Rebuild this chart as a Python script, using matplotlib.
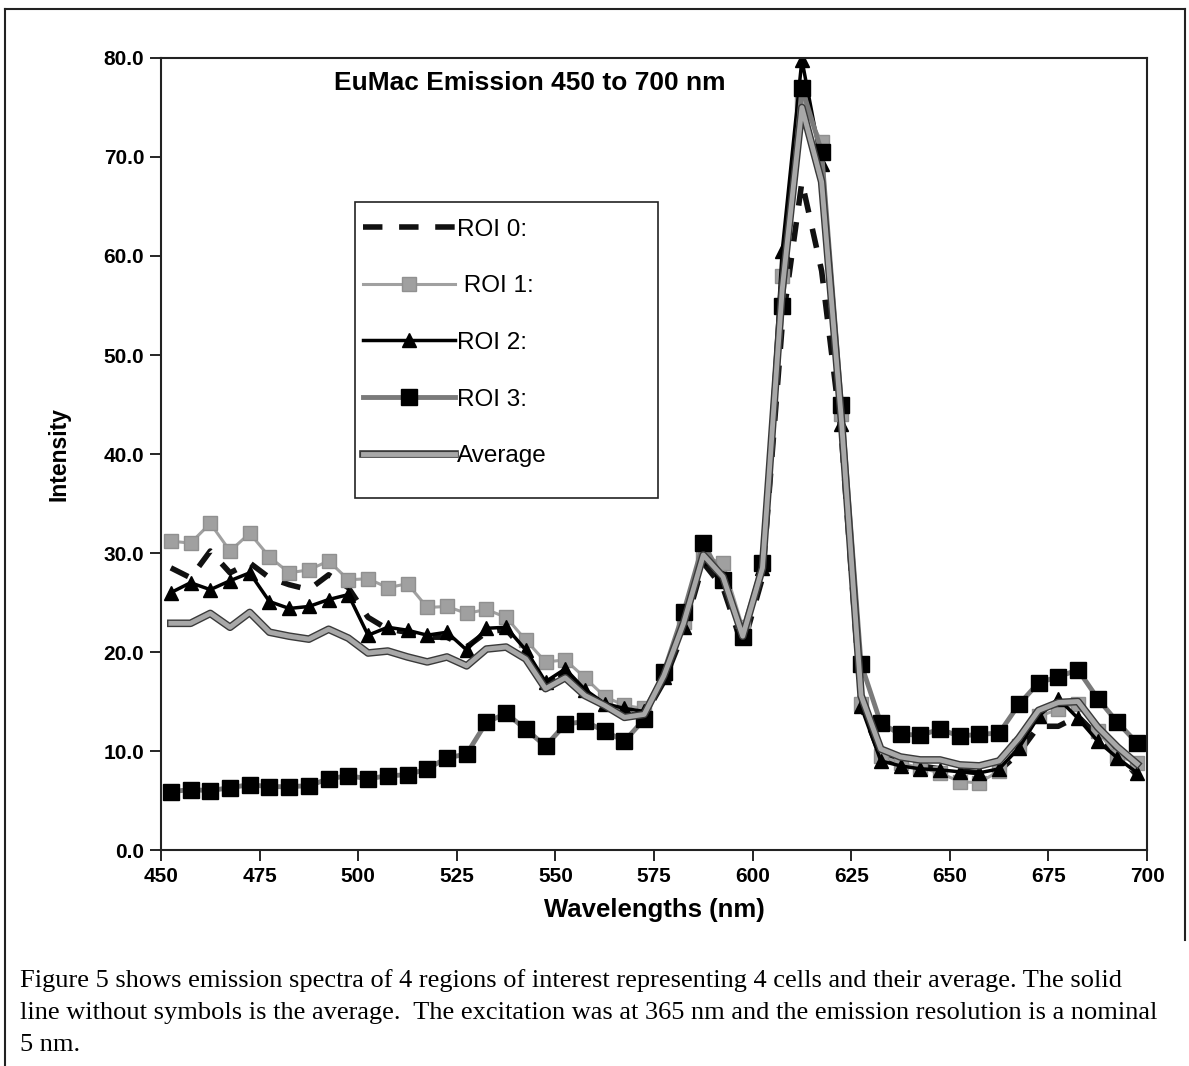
import matplotlib
matplotlib.use('Agg')
import matplotlib.pyplot as plt
from matplotlib.patches import Rectangle
from matplotlib.lines import Line2D
import matplotlib.patheffects as pe

plt.rcParams['font.family'] = ['Liberation Sans', 'DejaVu Sans']

# wavelengths, 5 nm steps
wavelength = [452.5, 457.5, 462.5, 467.5, 472.5, 477.5, 482.5, 487.5, 492.5, 497.5,
              502.5, 507.5, 512.5, 517.5, 522.5, 527.5, 532.5, 537.5, 542.5, 547.5,
              552.5, 557.5, 562.5, 567.5, 572.5, 577.5, 582.5, 587.5, 592.5, 597.5,
              602.5, 607.5, 612.5, 617.5, 622.5, 627.5, 632.5, 637.5, 642.5, 647.5,
              652.5, 657.5, 662.5, 667.5, 672.5, 677.5, 682.5, 687.5, 692.5, 697.5]

roi0 = [28.5, 27.5, 30.2, 28.0, 29.0, 27.5, 26.8, 26.3, 27.8, 26.5,
        23.5, 22.3, 22.0, 21.5, 21.5, 20.5, 22.0, 22.3, 20.0, 16.5,
        18.0, 16.0, 14.5, 13.8, 13.5, 17.0, 22.0, 29.0, 26.5, 20.5,
        27.5, 53.0, 67.5, 58.5, 42.0, 14.5, 9.5, 8.8, 8.5, 8.2,
        8.0, 7.8, 8.0, 9.8, 12.5, 12.5, 13.5, 11.5, 9.8, 7.5]

roi1 = [31.2, 31.0, 33.0, 30.2, 32.0, 29.6, 28.0, 28.3, 29.2, 27.3,
        27.4, 26.5, 26.9, 24.5, 24.6, 23.9, 24.3, 23.5, 21.2, 19.0,
        19.2, 17.4, 15.5, 14.6, 14.3, 17.8, 23.0, 29.6, 29.0, 22.5,
        29.0, 58.0, 75.5, 71.5, 44.0, 14.8, 9.5, 8.8, 8.3, 7.8,
        6.9, 6.8, 8.0, 10.5, 13.5, 14.2, 14.8, 12.0, 9.5, 8.8]

roi2 = [26.0, 27.0, 26.3, 27.2, 28.0, 25.1, 24.4, 24.6, 25.3, 25.8,
        21.7, 22.5, 22.2, 21.7, 22.0, 20.2, 22.4, 22.5, 20.2, 17.0,
        18.3, 16.2, 14.8, 14.3, 14.0, 17.5, 22.5, 29.5, 27.5, 22.0,
        28.5, 60.5, 79.8, 69.3, 43.0, 14.5, 9.0, 8.5, 8.2, 8.1,
        7.9, 7.8, 8.2, 10.3, 13.5, 15.3, 13.3, 11.0, 9.3, 7.8]

roi3 = [5.9, 6.1, 6.0, 6.3, 6.6, 6.4, 6.4, 6.5, 7.2, 7.5,
        7.2, 7.5, 7.6, 8.2, 9.3, 9.7, 12.9, 13.8, 12.2, 10.5,
        12.7, 13.0, 12.0, 11.0, 13.2, 18.0, 24.0, 31.0, 27.3, 21.5,
        29.0, 55.0, 77.0, 70.5, 45.0, 18.8, 12.8, 11.7, 11.6, 12.2,
        11.5, 11.7, 11.8, 14.7, 16.9, 17.5, 18.2, 15.3, 12.9, 10.8]

average = [22.9, 22.9, 23.9, 22.5, 24.0, 22.0, 21.6, 21.3, 22.3, 21.4,
           19.9, 20.1, 19.5, 19.0, 19.5, 18.6, 20.3, 20.5, 19.3, 16.3,
           17.4, 15.6, 14.6, 13.4, 13.7, 17.6, 22.9, 29.8, 27.6, 21.6,
           28.5, 56.6, 75.0, 67.5, 43.5, 15.6, 10.2, 9.4, 9.1, 9.1,
           8.6, 8.5, 9.0, 11.3, 14.1, 14.9, 15.0, 12.4, 10.4, 8.7]

series_labels = ['ROI 0:', ' ROI 1:', 'ROI 2:', 'ROI 3:', 'Average']
y_ticks = [0, 10, 20, 30, 40, 50, 60, 70, 80]
x_ticks = [450, 475, 500, 525, 550, 575, 600, 625, 650, 675, 700]

fig = plt.figure(figsize=(11.89, 10.66), dpi=100)
ax = fig.add_axes([0.1354, 0.2026, 0.8293, 0.743])

avg_fx = [pe.Stroke(linewidth=5.5, foreground='#3a3a3a'), pe.Normal()]

l0, = ax.plot(wavelength, roi0, color='#111111', lw=4, dashes=(3.5, 3), label=series_labels[0])
l1, = ax.plot(wavelength, roi1, color='#a0a0a0', lw=2.2, marker='s', ms=10,
              mfc='#a0a0a0', mec='#909090', label=series_labels[1])
l2, = ax.plot(wavelength, roi2, color='#000000', lw=2.5, marker='^', ms=10,
              mfc='black', mec='black', label=series_labels[2])
l3, = ax.plot(wavelength, roi3, color='#7a7a7a', lw=3.5, marker='s', ms=11,
              mfc='black', mec='black', label=series_labels[3])
l4, = ax.plot(wavelength, average, color='#a8a8a8', lw=3.5, path_effects=avg_fx,
              label=series_labels[4])

ax.set_xlim(450, 700)
ax.set_ylim(0, 80)
ax.set_xticks(x_ticks)
ax.set_yticks(y_ticks)
ax.set_yticklabels(['%.1f' % v for v in y_ticks])
ax.tick_params(axis='both', direction='out', length=8, width=1.2, labelsize=15, pad=4)
for lab in ax.get_xticklabels() + ax.get_yticklabels():
    lab.set_fontweight('bold')
for sp in ax.spines.values():
    sp.set_linewidth(1.5)
    sp.set_color('#222222')

ax.set_xlabel('Wavelengths (nm)', fontsize=18.5, fontweight='bold', labelpad=9)
ax.set_ylabel('Intensity', fontsize=16.5, fontweight='bold', labelpad=24)

ax.text(0.374, 0.968, 'EuMac Emission 450 to 700 nm', transform=ax.transAxes,
        ha='center', va='center', fontsize=19, fontweight='bold')

# legend box
ax.add_patch(Rectangle((0.197, 0.444), 0.307, 0.374, transform=ax.transAxes,
                       fill=True, facecolor='white', edgecolor='#222222', lw=1.2, zorder=5))
leg = ax.legend(handles=[l0, l1, l2, l3, l4], loc='upper left',
                bbox_to_anchor=(0.197, 0.806), frameon=False, fontsize=17.5,
                handlelength=3.8, handletextpad=0.1, labelspacing=1.42,
                borderaxespad=0.2, borderpad=0.1)
leg.set_zorder(6)

# page border
fig.add_artist(Line2D([0.004, 0.997], [0.992, 0.992], color='#222222', lw=1.5))
fig.add_artist(Line2D([0.004, 0.004], [0.0, 0.992], color='#222222', lw=1.5))
fig.add_artist(Line2D([0.997, 0.997], [0.118, 0.992], color='#222222', lw=1.5))

caption = ['Figure 5 shows emission spectra of 4 regions of interest representing 4 cells and their average. The solid',
           'line without symbols is the average.  The excitation was at 365 nm and the emission resolution is a nominal',
           '5 nm.']
for k, line in enumerate(caption):
    fig.text(0.017, 1 - (981 + 32 * k) / 1066, line, fontsize=19,
             family=['Liberation Serif', 'DejaVu Serif'], va='center', ha='left')

fig.savefig('out.png', dpi=100)
